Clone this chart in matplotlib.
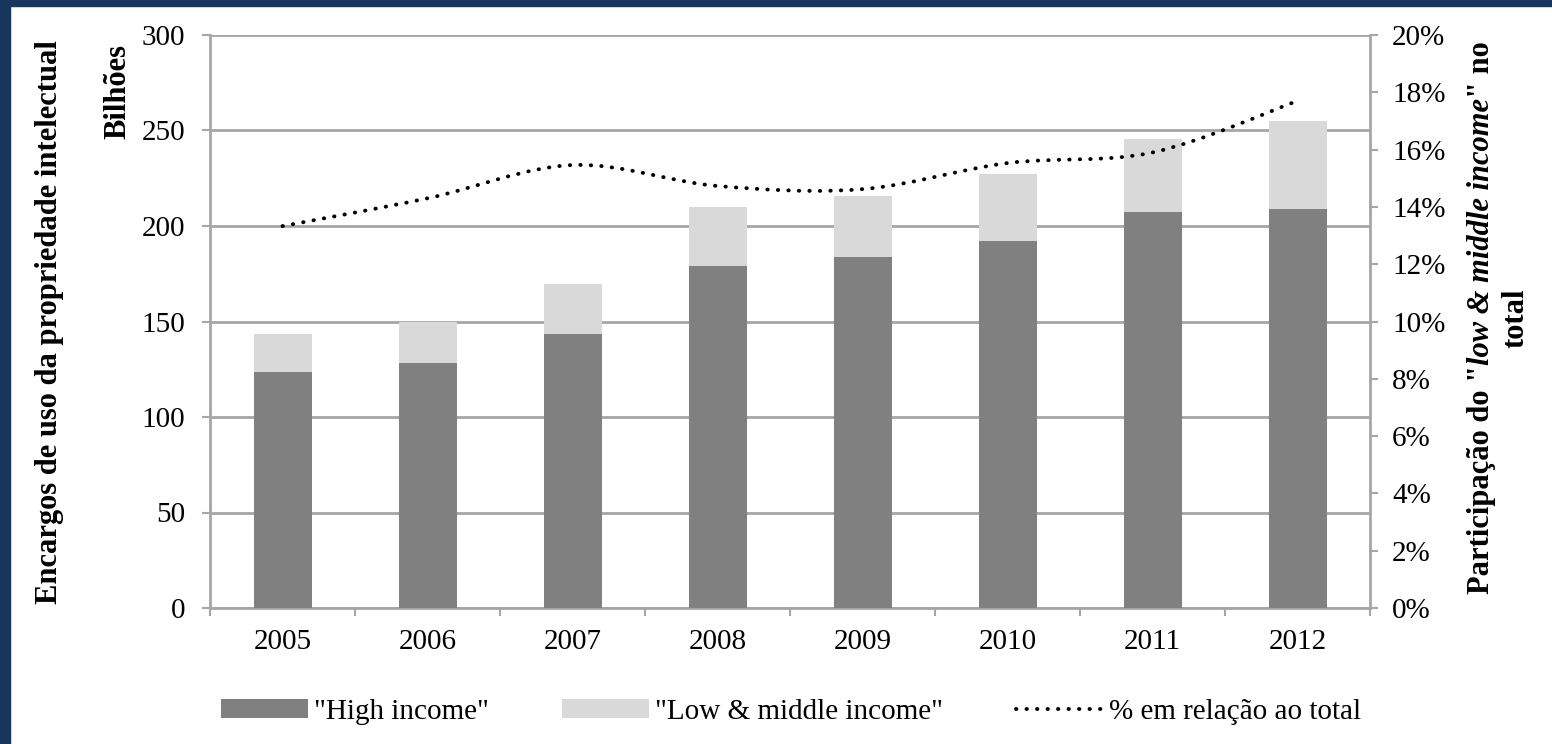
import matplotlib
matplotlib.use("Agg")
import matplotlib.pyplot as plt
from matplotlib.path import Path
from matplotlib.patches import PathPatch, Patch, Rectangle
from matplotlib.lines import Line2D
from matplotlib.ticker import FixedLocator, NullFormatter, FuncFormatter
import numpy as np

# data
years = ["2005", "2006", "2007", "2008", "2009", "2010", "2011", "2012"]
high_income = [123.6, 128.3, 143.5, 179.1, 183.8, 192.1, 207.3, 209.0]
low_middle_income = [19.9, 21.4, 26.1, 30.9, 31.9, 35.1, 38.2, 46.0]
share_pct = [13.33, 14.3, 15.46, 14.73, 14.62, 15.53, 15.9, 17.7]

plt.rcParams["font.family"] = ["Liberation Serif", "DejaVu Serif"]

GRID = "#a6a6a6"
DARK = "#808080"
LIGHT = "#d9d9d9"
FS = 21       # tick labels, legend
FS_T = 22     # axis titles
W, H = 1552, 744

fig = plt.figure(figsize=(W / 100, H / 100), dpi=100)
ax = fig.add_axes([210 / W, 1 - 608 / H, 1160 / W, 573 / H])

x = np.arange(len(years))
ax.bar(x, high_income, width=0.4, color=DARK, zorder=3)
ax.bar(x, low_middle_income, width=0.4, bottom=high_income, color=LIGHT, zorder=3)

ax.set_xlim(-0.5, len(years) - 0.5)
ax.set_ylim(0, 300)
ax.set_yticks(range(0, 301, 50))
ax.yaxis.grid(True, color=GRID, linewidth=2, zorder=0)
ax.set_axisbelow(True)

# x ticks sit between categories, labels centred on the bars
ax.xaxis.set_major_locator(FixedLocator(np.arange(-0.5, len(years), 1.0)))
ax.xaxis.set_major_formatter(NullFormatter())
ax.xaxis.set_minor_locator(FixedLocator(x))
ax.set_xticklabels(years, minor=True)
ax.tick_params(axis="x", which="minor", length=0, pad=15, labelsize=FS)
ax.tick_params(axis="x", which="major", length=6, width=1.5, color=GRID, direction="out")
ax.tick_params(axis="y", length=6, width=1.5, color=GRID, pad=12, labelsize=FS)

for side in ["top", "right"]:
    ax.spines[side].set_visible(False)
for side in ["left", "bottom"]:
    ax.spines[side].set_color(GRID)
    ax.spines[side].set_linewidth(2)

# secondary axis for the share line
ax2 = ax.twinx()
ax2.set_ylim(0, 20)
ax2.set_yticks(range(0, 21, 2))
ax2.yaxis.set_major_formatter(FuncFormatter(lambda v, p: f"{int(v)}%"))
ax2.tick_params(axis="y", length=6, width=1.5, color=GRID, pad=10, labelsize=FS)
for side in ["top", "left", "bottom"]:
    ax2.spines[side].set_visible(False)
ax2.spines["right"].set_color(GRID)
ax2.spines["right"].set_linewidth(2)

# smoothed line (Catmull-Rom through the data, like Excel)
pts = np.column_stack([x, share_pct]).astype(float)
verts = [pts[0]]
codes = [Path.MOVETO]
for i in range(len(pts) - 1):
    p0 = pts[max(i - 1, 0)]
    p1 = pts[i]
    p2 = pts[i + 1]
    p3 = pts[min(i + 2, len(pts) - 1)]
    verts += [p1 + (p2 - p0) / 6, p2 - (p3 - p1) / 6, p2]
    codes += [Path.CURVE4] * 3
line_style = dict(linewidth=2.8, linestyle=(0, (0.1, 2.6)))
patch = PathPatch(Path(verts, codes), facecolor="none", edgecolor="black",
                  capstyle="round", zorder=4, **line_style)
ax2.add_patch(patch)

# axis titles
fig.text(50 / W, 1 - 322 / H, "Encargos de uso da propriedade intelectual",
         rotation=90, ha="center", va="center", fontsize=FS_T, fontweight="bold")
fig.text(118 / W, 1 - 44 / H, "Bilhões", rotation=90, ha="center", va="top",
         fontsize=FS_T, fontweight="bold")


def rotated_line(xpix, ycenter, pieces, renderer):
    # pieces: list of (text, style); placed bottom-to-top along a baseline
    texts = []
    for s, style in pieces:
        t = fig.text(0, 0, s, rotation=90, rotation_mode="anchor", ha="left",
                     va="baseline", fontsize=FS_T, fontweight="bold", fontstyle=style)
        texts.append(t)
    lengths = [t.get_window_extent(renderer).height for t in texts]
    y = ycenter - sum(lengths) / 2
    for t, L in zip(texts, lengths):
        t.set_position((xpix / W, y / H))
        y += L


fig.canvas.draw()
rend = fig.canvas.get_renderer()
rotated_line(1489, H - 318, [('Participação do "', "normal"),
                             ("low & middle income", "italic"),
                             ('" no', "normal")], rend)
rotated_line(1523, H - 318, [("total", "normal")], rend)

# legend
handles = [
    Patch(facecolor=DARK, edgecolor="none"),
    Patch(facecolor=LIGHT, edgecolor="none"),
    Line2D([], [], color="black", dash_capstyle="round", **line_style),
]
labels = ['"High income"', '"Low & middle income"', "% em relação ao total"]
fig.legend(handles, labels, loc="center", bbox_to_anchor=(791 / W, 1 - 712 / H),
           ncol=3, frameon=False, fontsize=FS, handlelength=3.0, handleheight=0.6,
           handletextpad=0.2, columnspacing=2.5)

# navy frame on left and top
fig.patches.append(Rectangle((0, 0), 10 / W, 1, transform=fig.transFigure,
                             color="#17365d", zorder=10))
fig.patches.append(Rectangle((0, 1 - 6 / H), 1, 6 / H, transform=fig.transFigure,
                             color="#17365d", zorder=10))

fig.savefig("out.png", dpi=100)
